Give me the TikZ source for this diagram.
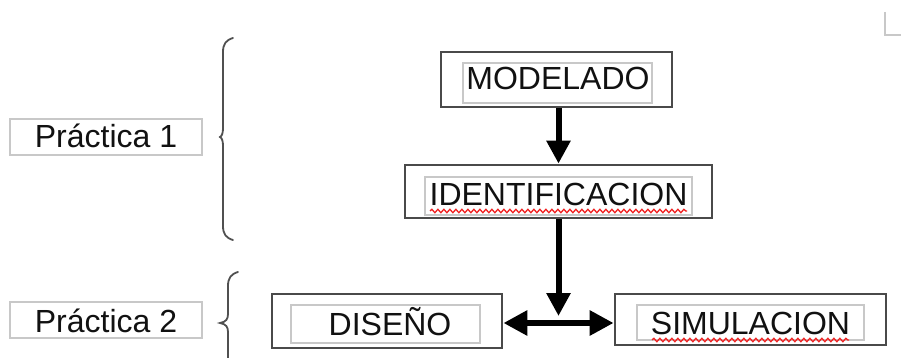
\documentclass[tikz,border=0pt]{standalone}
\usepackage{fontspec}
\setmainfont{Liberation Sans}
\usetikzlibrary{arrows.meta,decorations.pathmorphing}

\definecolor{framegray}{HTML}{4A4A4A}
\definecolor{lightframe}{HTML}{C8C8C8}
\definecolor{bracegray}{HTML}{505050}
\definecolor{inkblack}{HTML}{111111}
\definecolor{spellred}{HTML}{F02020}

\tikzset{
  outerbox/.style={draw=framegray, line width=2.8pt, fill=white, inner sep=0pt},
  innerframe/.style={draw=lightframe, line width=1.1pt, fill=white, inner sep=0pt},
  caption/.style={anchor=base, inner sep=0pt, text=inkblack,
    font=\fontsize{32}{38}\selectfont},
  bigarrow/.style={line width=6pt, draw=black,
    arrows={-Triangle[width=23pt,length=23pt]}},
  bothways/.style={bigarrow, arrows={Triangle[width=24pt,length=24pt]-Triangle[width=24pt,length=24pt]}},
  bracestroke/.style={draw=bracegray, line width=1.8pt, line cap=round},
  spellmark/.style={draw=spellred, line width=1.3pt,
    decorate, decoration={snake, segment length=6pt, amplitude=1.7pt}},
  cornermark/.style={draw=lightframe, line width=2pt}
}

\begin{document}
\begin{tikzpicture}[x=1pt, y=-1pt]
\useasboundingbox (0,0) rectangle (901,358);

% flow boxes: outer frame, inner frame, caption
\node[outerbox, minimum width=231pt, minimum height=55pt] (mod) at (556.5,79.5) {};
\node[innerframe, minimum width=189pt, minimum height=40pt] (modf) at (557.5,83) {};
\node[caption] (modt) at (558,90) {MODELADO};

\node[outerbox, minimum width=307pt, minimum height=53pt] (ide) at (558.5,191.5) {};
\node[innerframe, minimum width=267pt, minimum height=38pt] (idef) at (558.5,196) {};
\node[caption] (idet) at (558.5,205) {IDENTIFICACION};

\node[outerbox, minimum width=230pt, minimum height=54pt] (dis) at (387,321) {};
\node[innerframe, minimum width=189pt, minimum height=38pt] (disf) at (385.5,324) {};
\node[caption] (dist) at (390,335) {DISEÑO};

\node[outerbox, minimum width=271pt, minimum height=51pt] (sim) at (750.5,319.5) {};
\node[innerframe, minimum width=227pt, minimum height=35pt] (simf) at (750.5,322.5) {};
\node[caption] (simt) at (750.5,334) {SIMULACION};

% practice labels
\node[innerframe, minimum width=192pt, minimum height=36pt] (p1f) at (106,137) {};
\node[caption] (p1) at (106,148) {Práctica 1};
\node[innerframe, minimum width=192pt, minimum height=36pt] (p2f) at (106,320) {};
\node[caption] (p2) at (106,332) {Práctica 2};

% spelling underlines
\draw[spellmark] (430,211) -- (687,211);
\draw[spellmark] (652,340) -- (849,340);

% connectors
\coordinate (junction) at (558.5,316);
\draw[bigarrow] (mod.south -| ide.north) -- (ide.north);
\draw[bigarrow] (ide.south) -- (junction);
\draw[bothways] (dis.east |- 0,323) -- (sim.west |- 0,323);

% curly braces
\draw[bracestroke] (233,38) .. controls (226,40) and (223,44) .. (223,52)
  -- (223,128) .. controls (223,133) and (222,136) .. (220,137)
  .. controls (222,138) and (223,141) .. (223,146)
  -- (223,226) .. controls (223,234) and (226,238) .. (233,240);
\draw[bracestroke] (238,272) .. controls (231,274) and (228,278) .. (228,286)
  -- (228,314) .. controls (228,319) and (226,322) .. (220,323)
  .. controls (226,324) and (228,327) .. (228,332)
  -- (228,362);

% page corner mark
\draw[cornermark] (885,12) -- (885,35) -- (901,35);
\end{tikzpicture}
\end{document}
